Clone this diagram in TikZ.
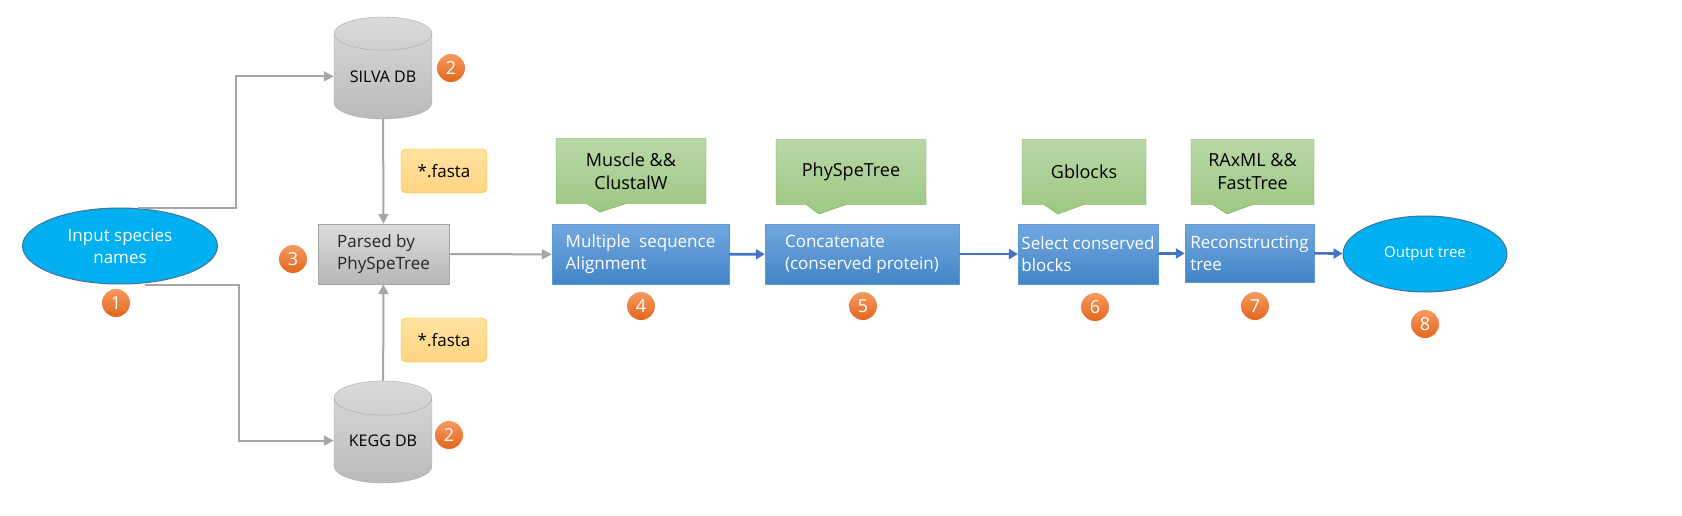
\documentclass[tikz,border=0pt]{standalone}
\usepackage{fontspec}
\setmainfont{Open Sans}
\usetikzlibrary{
    positioning,
    arrows.meta,
    calc,
    shapes.geometric,
    shapes.callouts
}
\definecolor{flowCyan}{RGB}{0, 176, 240}
\definecolor{flowNavy}{RGB}{65, 113, 156}
\definecolor{stepTop}{RGB}{114, 168, 222}
\definecolor{stepBottom}{RGB}{66, 132, 200}
\definecolor{stepLine}{RGB}{91, 155, 213}
\definecolor{toolTop}{RGB}{184, 216, 167}
\definecolor{toolBottom}{RGB}{158, 199, 131}
\definecolor{toolLine}{RGB}{112, 173, 71}
\definecolor{fastaTop}{RGB}{255, 226, 160}
\definecolor{fastaBottom}{RGB}{255, 212, 130}
\definecolor{fastaLine}{RGB}{255, 192, 0}
\definecolor{dbTop}{RGB}{218, 218, 218}
\definecolor{dbBottom}{RGB}{186, 186, 186}
\definecolor{greyLine}{RGB}{166, 166, 166}
\definecolor{badgeTop}{RGB}{246, 154, 94}
\definecolor{badgeBottom}{RGB}{226, 102, 30}
\definecolor{arrowBlue}{RGB}{68, 114, 196}

\tikzset{
    speciesnode/.style={ellipse, draw=flowNavy, line width=1pt, fill=flowCyan,
        text=white, inner sep=0pt, align=center},
    dbnode/.style={cylinder, shape border rotate=90, aspect=0.5, draw=greyLine,
        top color=dbTop, bottom color=dbBottom, minimum width=98pt,
        minimum height=102pt, inner sep=0pt, anchor=shape center,
        font=\fontsize{16}{19}\selectfont},
    parsebox/.style={rectangle, draw=greyLine, top color=dbTop!95!white,
        bottom color=dbBottom!105!white, minimum width=131pt, minimum height=60pt,
        align=left, text=black!85, font=\fontsize{17}{22}\selectfont},
    stepbox/.style={rectangle, draw=stepLine, top color=stepTop,
        bottom color=stepBottom, minimum height=60pt, align=left, text=white,
        font=\fontsize{17}{22}\selectfont},
    toolnote/.style={rectangle callout, draw=toolLine, top color=toolTop,
        bottom color=toolBottom, minimum height=65pt, align=center,
        callout pointer width=40pt, font=\fontsize{18}{23}\selectfont},
    fastanote/.style={rectangle, rounded corners=5pt, draw=fastaLine,
        top color=fastaTop, bottom color=fastaBottom, minimum width=86pt,
        minimum height=44pt, font=\fontsize{17}{20}\selectfont},
    badge/.style={circle, top color=badgeTop, bottom color=badgeBottom,
        minimum size=28pt, inner sep=0pt, text=white,
        font=\fontsize{18}{18}\selectfont},
    greyarrow/.style={draw=greyLine, line width=2pt,
        -{Triangle[length=10pt, width=10pt]}},
    bluearrow/.style={draw=arrowBlue, line width=2.6pt,
        -{Triangle[length=9pt, width=10pt]}}
}

\begin{document}
\begin{tikzpicture}[x=1pt, y=-1pt]
    \useasboundingbox (0,0) rectangle (1682,516);

    % Inputs and databases
    \node[speciesnode, minimum width=195pt, minimum height=76pt,
        font=\fontsize{17}{22}\selectfont] (input) at (120,246) {Input species\\names};
    \node[dbnode] (silva) at (383,68) {SILVA DB};
    \node[dbnode] (kegg) at (383,432) {KEGG DB};
    \node[parsebox] (parse) at (383.5,254) {Parsed by\\PhySpeTree};
    \node[fastanote] (fastaup) at (444,171) {*.fasta};
    \node[fastanote] (fastadown) at (444,340) {*.fasta};

    % Pipeline steps
    \node[stepbox, minimum width=177pt] (msa) at (640.5,254.5) {Multiple\ \ sequence\\Alignment};
    \node[stepbox, minimum width=194pt] (concat) at (862,254) {Concatenate\\(conserved protein)};
    \node[stepbox, minimum width=132pt] (select) at (1088,254) {Select conserved\\blocks};
    \node[stepbox, minimum width=129pt, minimum height=58pt] (rebuild) at (1249.5,253) {Reconstructing\\tree};
    \node[speciesnode, minimum width=164pt, minimum height=76pt,
        font=\fontsize{15}{18}\selectfont] (output) at (1425,254) {Output tree};

    % Tools
    \coordinate (tip1) at (600,212);
    \coordinate (tip2) at (819,214);
    \coordinate (tip3) at (1058,214);
    \coordinate (tip4) at (1227,214);
    \node[toolnote, minimum width=150pt, callout absolute pointer=(tip1)] (muscle) at (631,171) {Muscle \&\&\\ClustalW};
    \node[toolnote, minimum width=150pt, callout absolute pointer=(tip2)] (physpe) at (851,172) {PhySpeTree};
    \node[toolnote, minimum width=124pt, callout absolute pointer=(tip3)] (gblocks) at (1084,172) {Gblocks};
    \node[toolnote, minimum width=123pt, callout absolute pointer=(tip4)] (raxml) at (1252.5,172) {RAxML \&\&\\FastTree};

    % Step numbers
    \node[badge] (n1) at (116,303) {1};
    \node[badge] (n2a) at (451,68) {2};
    \node[badge] (n2b) at (449,435) {2};
    \node[badge] (n3) at (293,259) {3};
    \node[badge] (n4) at (641,306) {4};
    \node[badge] (n5) at (863,306) {5};
    \node[badge] (n6) at (1095,307) {6};
    \node[badge] (n7) at (1255,306) {7};
    \node[badge] (n8) at (1425,324) {8};

    % Connectors
    \draw[greyarrow] ([xshift=18pt]input.north) -- ++(98,0) |- (silva.west);
    \draw[greyarrow] ([xshift=25pt]input.south) -- ++(94,0) |- (kegg.west);
    \draw[greyarrow] (silva) -- (parse);
    \draw[greyarrow] (kegg) -- (parse);
    \draw[greyarrow] (parse) -- (msa);
    \draw[bluearrow] (msa) -- (concat);
    \draw[bluearrow] (concat) -- (select);
    \draw[bluearrow] (select) -- (rebuild);
    \draw[bluearrow] (rebuild) -- (output);
\end{tikzpicture}
\end{document}
